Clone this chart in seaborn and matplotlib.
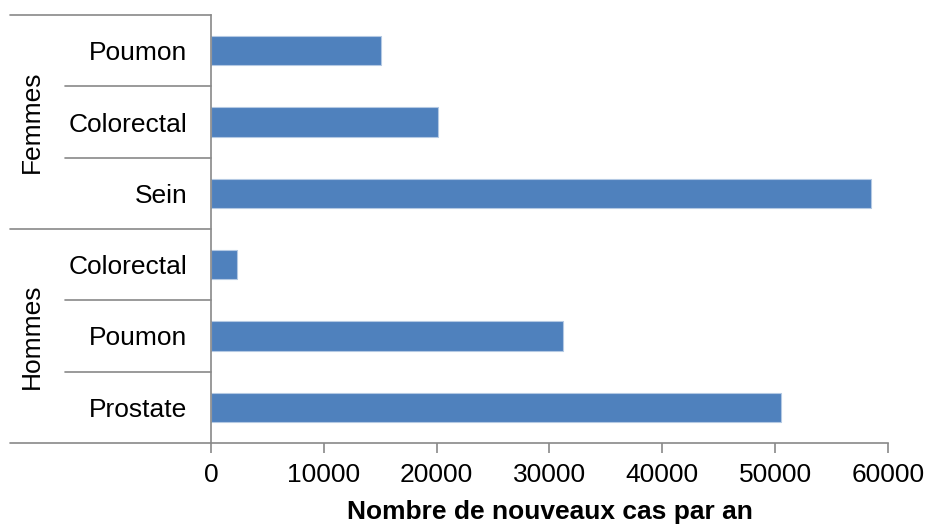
import matplotlib
matplotlib.use("Agg")
import pandas as pd
import seaborn as sns
from matplotlib import pyplot as plt
from matplotlib import transforms

# data, top to bottom as in the chart
groups = ["Femmes", "Femmes", "Femmes", "Hommes", "Hommes", "Hommes"]
cancers = ["Poumon", "Colorectal", "Sein", "Colorectal", "Poumon", "Prostate"]
cases = [15100, 20100, 58500, 2300, 31200, 50500]
xticks = [0, 10000, 20000, 30000, 40000, 50000, 60000]

df = pd.DataFrame({"key": [g + " " + c for g, c in zip(groups, cancers)],
                   "cancer": cancers, "group": groups, "cases": cases})

sns.set_style("white")
plt.rcParams["font.family"] = ["Liberation Sans", "DejaVu Sans"]
plt.rcParams["text.color"] = "black"
plt.rcParams["xtick.color"] = "black"
plt.rcParams["ytick.color"] = "black"
plt.rcParams["axes.labelcolor"] = "black"

fs = 19
grey = "#898989"
fig = plt.figure(figsize=(9.31, 5.29), dpi=100)
ax = fig.add_axes([0.2266, 0.1626, 0.7272, 0.809])

sns.barplot(data=df, x="cases", y="key", orient="h", color="#4F81BD",
            saturation=1, width=0.41, edgecolor="#B4C9E3", linewidth=0.8, ax=ax)

ax.set_xlim(0, 60000)
ax.set_ylim(5.5, -0.5)
ax.set_xticks(xticks)
ax.set_xticklabels([str(t) for t in xticks], fontsize=fs)
ax.set_yticks(range(len(cancers)))
ax.set_yticklabels(cancers, fontsize=fs)
ax.tick_params(axis="y", left=False, length=0, pad=17)
ax.tick_params(axis="x", bottom=True, length=7.5, width=1.2, color=grey,
               labelcolor="black", pad=7, direction="out")
ax.set_ylabel("")
ax.set_xlabel("Nombre de nouveaux cas par an", fontsize=fs, fontweight="bold", labelpad=9)

for side in ["top", "right"]:
    ax.spines[side].set_visible(False)
for side in ["left", "bottom"]:
    ax.spines[side].set_color(grey)
    ax.spines[side].set_linewidth(1.2)

# category separators (short) and group separators (long)
trans = transforms.blended_transform_factory(ax.transAxes, ax.transData)
bounds = [i - 0.5 for i in range(len(cancers) + 1)]
for i, b in enumerate(bounds):
    if i == 0 or i == len(cancers) or groups[i] != groups[i - 1]:
        x0 = -0.297
    else:
        x0 = -0.2157
    ax.plot([x0, 0], [b, b], color=grey, lw=1.2, transform=trans, clip_on=False)

# group labels
for g in ["Femmes", "Hommes"]:
    idx = [i for i, v in enumerate(groups) if v == g]
    mid = (idx[0] + idx[-1]) / 2
    ax.text(-0.264, mid, g, rotation=90, ha="center", va="center",
            fontsize=fs, transform=trans)

fig.savefig("out.png", dpi=100)
